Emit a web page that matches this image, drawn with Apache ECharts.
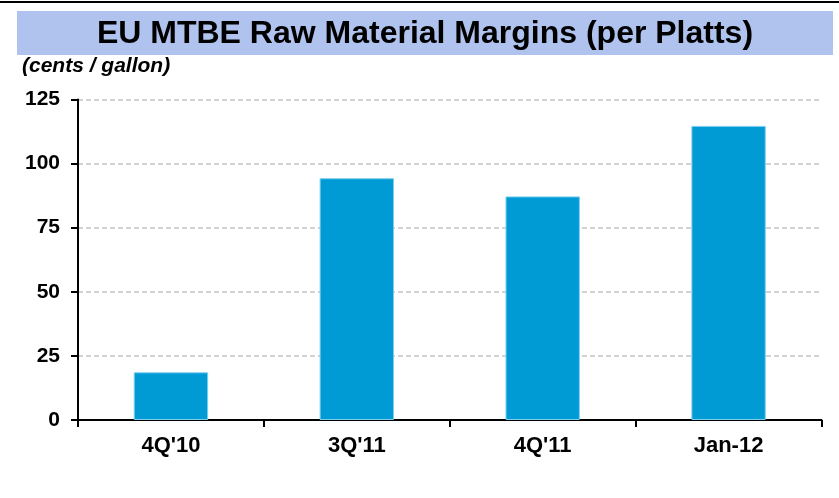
<!DOCTYPE html>
<html>
<head>
<meta charset="utf-8">
<script src="https://cdn.jsdelivr.net/npm/echarts@6/dist/echarts.min.js"></script>
<style>
html,body{margin:0;padding:0;background:#fff;}
#chart{width:839px;height:498px;}
</style>
</head>
<body>
<div id="chart"></div>
<script>
var titleText = "EU MTBE Raw Material Margins (per Platts)";
var unitText = "(cents / gallon)";
var categories = ["4Q'10", "3Q'11", "4Q'11", "Jan-12"];
var margins = [18.6, 94.3, 87.2, 114.7];
var yTicks = [0, 25, 50, 75, 100, 125];

var chart = echarts.init(document.getElementById('chart'), null, {renderer: 'canvas'});
var FONT = '"Liberation Sans", Arial, sans-serif';
chart.setOption({
  backgroundColor: '#ffffff',
  animation: false,
  graphic: [
    {type: 'rect', shape: {x: 0, y: 1, width: 839, height: 2}, style: {fill: '#000'}},
    {type: 'rect', shape: {x: 17, y: 11, width: 816, height: 44}, style: {fill: '#AFC3EE'}},
    {type: 'text', x: 425, y: 34, style: {text: titleText, fill: '#000', font: 'bold 32px ' + FONT, textAlign: 'center', textVerticalAlign: 'middle'}},
    {type: 'text', x: 22, y: 66, style: {text: unitText, fill: '#000', font: 'italic bold 21px ' + FONT, textAlign: 'left', textVerticalAlign: 'middle'}}
  ],
  grid: {left: 78, right: 17.5, top: 99.5, bottom: 78, containLabel: false},
  xAxis: {
    type: 'category',
    data: categories,
    axisLine: {lineStyle: {color: '#000', width: 2}},
    axisTick: {show: true, length: 7, lineStyle: {color: '#000', width: 2}},
    axisLabel: {color: '#000', fontFamily: FONT, fontWeight: 'bold', fontSize: 22, margin: 15}
  },
  yAxis: {
    type: 'value',
    min: yTicks[0],
    max: yTicks[yTicks.length - 1],
    interval: 25,
    axisLine: {show: true, lineStyle: {color: '#000', width: 2}},
    axisTick: {show: true, length: 7, lineStyle: {color: '#000', width: 2}},
    axisLabel: {color: '#000', fontFamily: FONT, fontWeight: 'bold', fontSize: 21, margin: 18},
    splitLine: {show: true, lineStyle: {color: '#c4c4c4', width: 1.5, type: [5, 3]}}
  },
  series: [{
    type: 'bar',
    data: margins,
    barCategoryGap: '60%',
    itemStyle: {color: '#009BD5', borderColor: '#7ccdef', borderWidth: 1}
  }]
});
</script>
</body>
</html>
